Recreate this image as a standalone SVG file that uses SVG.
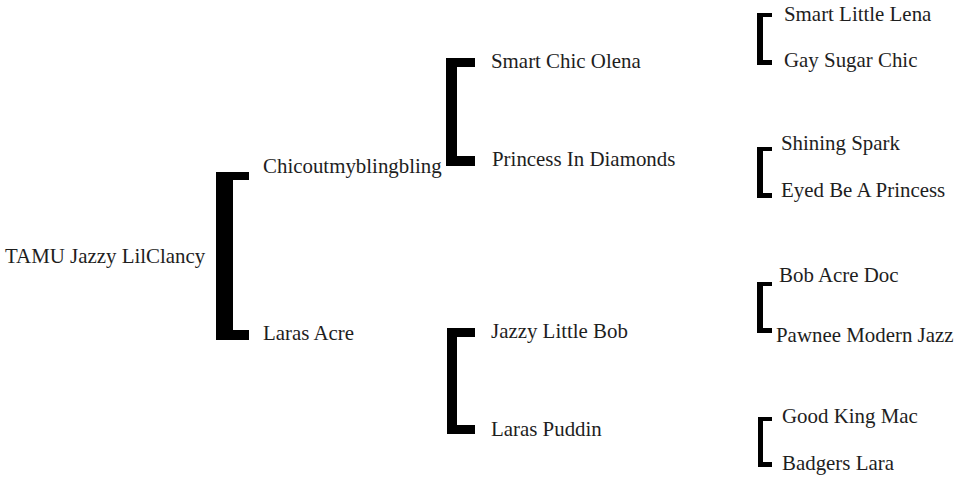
<svg xmlns="http://www.w3.org/2000/svg" width="962" height="478" viewBox="0 0 962 478">
<style>
text{font-family:"Liberation Serif","Times New Roman",serif;font-size:20.9px;fill:#1e1e1e}
.b{fill:#000}
</style>
<rect width="962" height="478" fill="#fff"/>
<g id="connectors">
<path class="b" d="M216,172H249V180H233V330H249V340H216Z"/>
<path class="b" d="M446,58H475V67H457V156H475V166H446Z"/>
<path class="b" d="M447,328H475V337H457V425H475V434H447Z"/>
<path class="b" d="M757,13H772V17H763V60H772V65H757Z"/>
<path class="b" d="M757,147H772V151H763V193H772V198H757Z"/>
<path class="b" d="M757,282H772V286H763V328H772V333H757Z"/>
<path class="b" d="M758,417H772V421H763V462H772V467H758Z"/>
</g>
<g id="n0"><text x="5" y="263">TAMU Jazzy LilClancy</text></g>
<g id="n1"><text x="263" y="173">Chicoutmyblingbling</text></g>
<g id="n2"><text x="263" y="340">Laras Acre</text></g>
<g id="n3"><text x="491" y="68">Smart Chic Olena</text></g>
<g id="n4"><text x="492" y="166">Princess In Diamonds</text></g>
<g id="n5"><text x="491" y="338">Jazzy Little Bob</text></g>
<g id="n6"><text x="491" y="436">Laras Puddin</text></g>
<g id="n7"><text x="784" y="21">Smart Little Lena</text></g>
<g id="n8"><text x="784" y="67">Gay Sugar Chic</text></g>
<g id="n9"><text x="781" y="150">Shining Spark</text></g>
<g id="n10"><text x="781" y="197">Eyed Be A Princess</text></g>
<g id="n11"><text x="779" y="282">Bob Acre Doc</text></g>
<g id="n12"><text x="776" y="342">Pawnee Modern Jazz</text></g>
<g id="n13"><text x="782" y="423">Good King Mac</text></g>
<g id="n14"><text x="782" y="470">Badgers Lara</text></g>
</svg>
